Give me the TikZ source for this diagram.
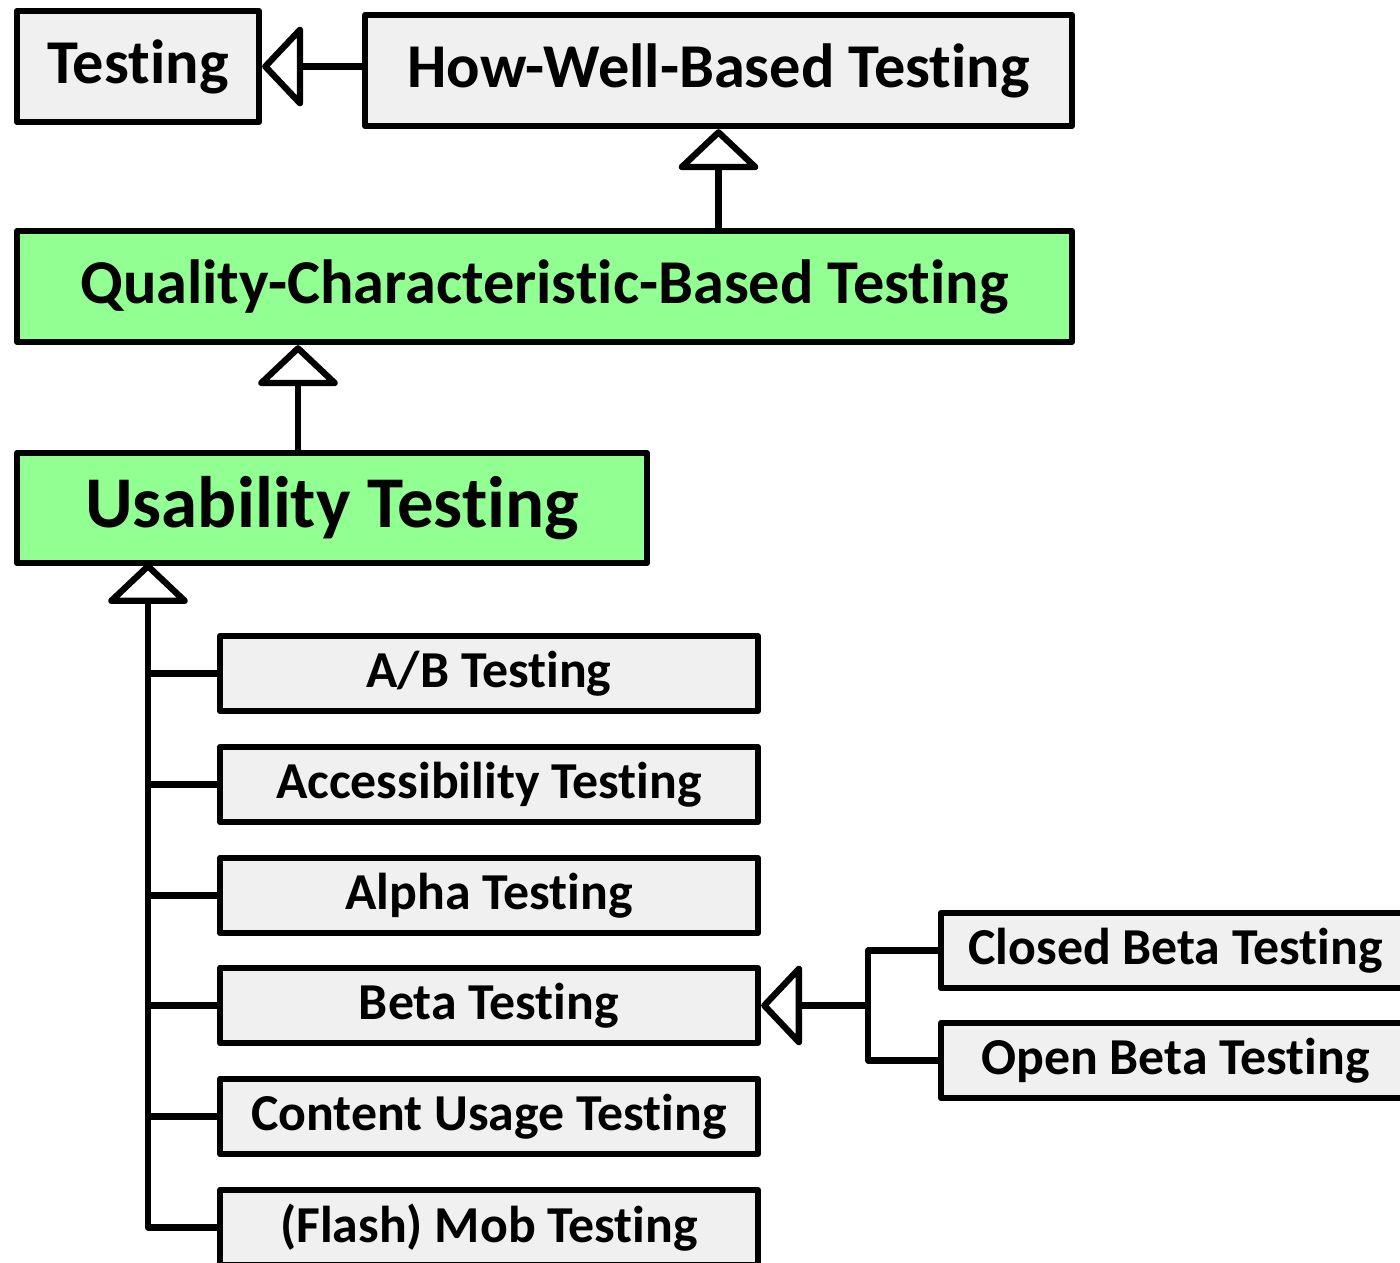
\documentclass[tikz,border=0pt]{standalone}
\usepackage{fontspec}
\setmainfont{Carlito}[Ligatures=NoCommon]
\usetikzlibrary{arrows.meta}

\definecolor{boxgray}{RGB}{240,240,240}
\definecolor{boxgreen}{RGB}{146,255,146}

\begin{document}
\begin{tikzpicture}[
      x=0.02cm, y=-0.02cm,
      box/.style={draw, line width=3.6pt, line join=round, inner sep=0pt, align=center, font=\bfseries},
      bigbox/.style={box, minimum height=2.22cm, font=\bfseries\fontsize{35.5}{42}\selectfont},
      leaf/.style={box, fill=boxgray, minimum width=10.76cm, minimum height=1.5cm, font=\bfseries\fontsize{29.5}{35}\selectfont},
      link/.style={line width=3.6pt, line join=round},
      inherit/.style={link, -{Triangle[open, length=24pt, width=50pt, round]}}
    ]
      \useasboundingbox (0,0) rectangle (1400,1262);
      \clip (0,0) rectangle (1400,1262);

      \node[bigbox, fill=boxgray, minimum width=4.84cm] (testing) at (138,66.5) {Testing};
      \node[bigbox, fill=boxgray, minimum width=14.14cm] (howwell) at (718.5,70.5) {How-Well-Based Testing};
      \node[bigbox, fill=boxgreen, minimum width=21.1cm] (quality) at (544.5,286.5) {Quality-Characteristic-Based Testing};
      \node[box, fill=boxgreen, minimum width=12.6cm, minimum height=2.2cm,
            font=\bfseries\fontsize{41.5}{50}\selectfont] (usability) at (332,508) {Usability Testing};

      \node[leaf] (ab)      at (489,673.5)  {A/B Testing};
      \node[leaf] (access)  at (489,784.5)  {Accessibility Testing};
      \node[leaf] (alpha)   at (489,895.5)  {Alpha Testing};
      \node[leaf] (beta)    at (489,1005.5) {Beta Testing};
      \node[leaf] (content) at (489,1116.5) {Content Usage Testing};
      \node[leaf] (mob)     at (489,1227.5) {(Flash) Mob Testing};

      \node[leaf, minimum width=9.38cm] (closed) at (1175.5,950.5)  {Closed Beta Testing};
      \node[leaf, minimum width=9.38cm] (open)   at (1175.5,1060.5) {Open Beta Testing};

      \coordinate (spine) at (148,563);
      \coordinate (fork)  at (868,1005.5);

      \draw[inherit] (howwell.west |- testing.east) -- (testing.east);
      \draw[inherit] (quality.north -| howwell.south) -- (howwell.south);
      \draw[inherit] ([xshift=-0.68cm]usability.north) -- ([xshift=-0.68cm]usability.north |- quality.south);
      \draw[inherit] (mob.west) -| (spine);
      \foreach \n in {ab, access, alpha, beta, content}
        \draw[link] (\n.west) -- (\n.west -| spine);
      \draw[link] (closed.west) -| (fork) |- (open.west);
      \draw[inherit] (fork) -- (beta.east);
\end{tikzpicture}
\end{document}
